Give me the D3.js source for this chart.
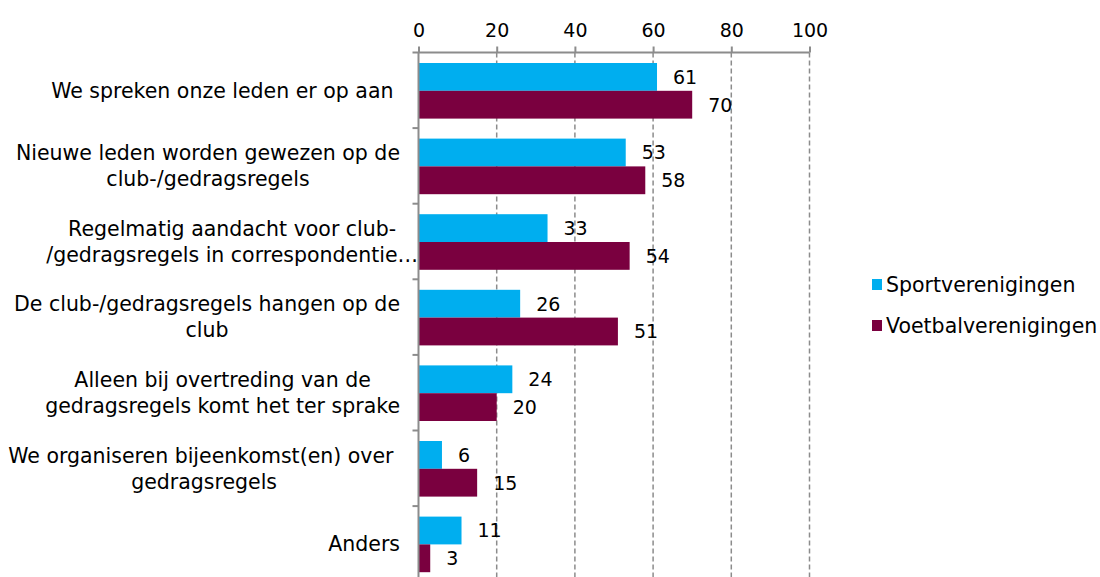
<!DOCTYPE html>
<html lang="nl">
  <head>
    <meta charset="UTF-8" />
    <title>gedragsregels</title>
    <style>
      body { margin: 0; background: #fff; }
      text { font-family: 'DejaVu Sans', sans-serif; fill: #000; white-space: pre; }
    </style>
  </head>
  <body>
    <svg id="chart" width="1100" height="577"></svg>
    <script src="https://cdn.jsdelivr.net/npm/d3@7"></script>
    <script>
      var width = 1100;
      var height = 577;

      // categories, one entry per line of the label
      var categories = [
        ['We spreken onze leden er op aan '],
        ['Nieuwe leden worden gewezen op de', 'club-/gedragsregels'],
        ['Regelmatig aandacht voor club-', '/gedragsregels in correspondentie…'],
        ['De club-/gedragsregels hangen op de', 'club'],
        ['Alleen bij overtreding van de', 'gedragsregels komt het ter sprake'],
        ['We organiseren bijeenkomst(en) over ', 'gedragsregels'],
        ['Anders']
      ];
      var seriesNames = ['Sportverenigingen', 'Voetbalverenigingen'];
      var sport = [61, 53, 33, 26, 24, 6, 11];
      var voetbal = [70, 58, 54, 51, 20, 15, 3];
      var xTicks = [0, 20, 40, 60, 80, 100];
      var colors = ['#00aeef', '#7a003f'];

      var labelSize = 20.5;
      var valueSize = 19;
      var margin = { top: 52.5, left: 418.5 };
      var bandH = 75.6;

      var svg = d3.select('#chart');

      var x = d3.scaleLinear()
        .domain([0, 100])
        .range([margin.left, 809.5]);

      var y = d3.scaleBand()
        .domain(d3.range(categories.length))
        .range([margin.top, margin.top + bandH * categories.length]);

      var inner = d3.scaleBand()
        .domain([0, 1])
        .range([10.5, bandH - 9.5]);

      // dashed grid
      svg.append('g')
        .selectAll('line')
        .data(xTicks.slice(1))
        .join('line')
        .attr('x1', d => x(d))
        .attr('x2', d => x(d))
        .attr('y1', margin.top)
        .attr('y2', height)
        .attr('stroke', '#8c8c8c')
        .attr('stroke-width', 1.5)
        .attr('stroke-dasharray', '5,3');

      // bars
      var rows = categories.map((c, i) => ({ i: i, vals: [sport[i], voetbal[i]] }));
      var group = svg.append('g')
        .selectAll('g')
        .data(rows)
        .join('g')
        .attr('transform', d => `translate(0,${y(d.i)})`);

      group.selectAll('rect')
        .data(d => d.vals)
        .join('rect')
        .attr('x', x(0))
        .attr('y', (d, j) => inner(j))
        .attr('width', d => x(d) - x(0))
        .attr('height', inner.bandwidth())
        .attr('fill', (d, j) => colors[j]);

      group.selectAll('text.val')
        .data(d => d.vals)
        .join('text')
        .attr('class', 'val')
        .attr('x', d => x(d) + 16)
        .attr('y', (d, j) => inner(j) + inner.bandwidth() / 2)
        .attr('dy', '0.36em')
        .style('font-size', valueSize + 'px')
        .text(d => d);

      // top axis
      var xAxis = svg.append('g')
        .attr('transform', `translate(0,${margin.top})`)
        .call(d3.axisTop(x).tickValues(xTicks).tickSize(6).tickPadding(10));
      xAxis.select('.domain').remove();
      xAxis.selectAll('line').attr('stroke', '#8c8c8c').attr('stroke-width', 2);
      xAxis.selectAll('text')
        .style('font-family', "'DejaVu Sans', sans-serif")
        .style('font-size', '19px')
        .attr('fill', '#000');
      xAxis.append('line')
        .attr('x1', x(0) - 6)
        .attr('x2', x(100))
        .attr('stroke', '#8c8c8c')
        .attr('stroke-width', 2);

      // left axis with ticks between categories
      var yAxis = svg.append('g');
      yAxis.append('line')
        .attr('x1', x(0))
        .attr('x2', x(0))
        .attr('y1', margin.top)
        .attr('y2', height)
        .attr('stroke', '#8c8c8c')
        .attr('stroke-width', 2);
      yAxis.selectAll('line.tk')
        .data(d3.range(1, categories.length))
        .join('line')
        .attr('class', 'tk')
        .attr('x1', x(0) - 6)
        .attr('x2', x(0))
        .attr('y1', d => y(d))
        .attr('y2', d => y(d))
        .attr('stroke', '#8c8c8c')
        .attr('stroke-width', 2);

      // category labels: lines centred on each other, block right-aligned
      var labels = svg.append('g')
        .selectAll('text')
        .data(categories)
        .join('text')
        .attr('text-anchor', 'middle')
        .style('font-size', labelSize + 'px');

      labels.selectAll('tspan')
        .data(d => d.map((t, k) => ({ t: t, k: k, n: d.length })))
        .join('tspan')
        .attr('y', d => (d.k - (d.n - 1) / 2) * 26)
        .attr('dy', '0.36em')
        .text(d => d.t);

      labels.each(function (d, i) {
        var spans = d3.select(this).selectAll('tspan');
        var maxW = d3.max(spans.nodes(), n => n.getComputedTextLength());
        var right = d.some(t => t.endsWith('…')) ? 418 : 400;
        spans.attr('x', 0);
        d3.select(this).attr('transform', `translate(${right - maxW / 2},${y(i) + bandH / 2})`);
      });

      // legend
      var legend = svg.append('g')
        .selectAll('g')
        .data(seriesNames)
        .join('g')
        .attr('transform', (d, i) => `translate(872,${284.5 + i * 41})`);
      legend.append('rect')
        .attr('x', 0)
        .attr('y', -5.5)
        .attr('width', 10)
        .attr('height', 11)
        .attr('fill', (d, i) => colors[i]);
      legend.append('text')
        .attr('x', 14)
        .attr('dy', '0.36em')
        .style('font-size', labelSize + 'px')
        .text(d => d);
    </script>
  </body>
</html>
